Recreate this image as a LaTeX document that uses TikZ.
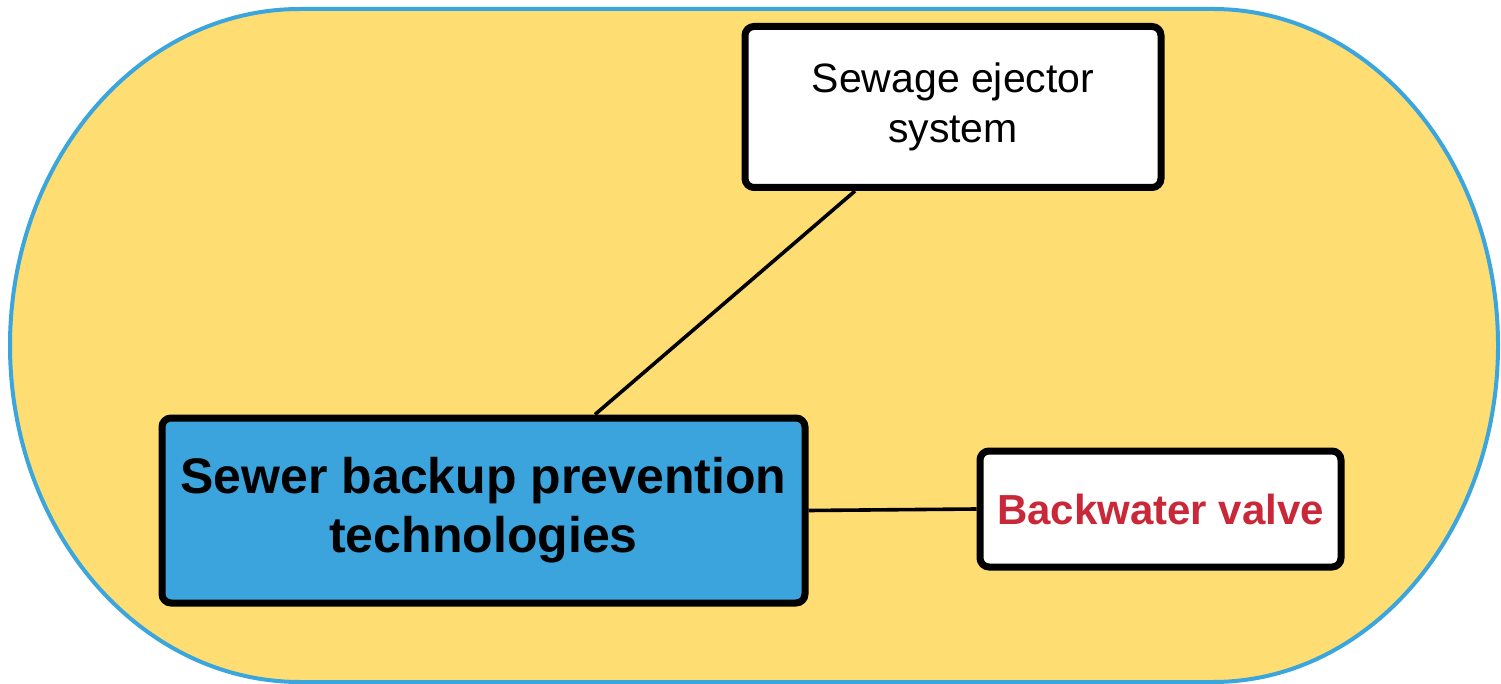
\documentclass[tikz,border=0pt]{standalone}
\usepackage{fontspec}
\setmainfont{Liberation Sans}
\definecolor{bgyellow}{RGB}{254,221,115}
\definecolor{outline}{RGB}{59,165,221}
\definecolor{mainblue}{RGB}{59,164,220}
\definecolor{valvered}{RGB}{200,40,56}
\tikzset{
  box/.style={draw=black, line width=7pt, rounded corners=9pt, fill=white, align=center, inner sep=0pt},
  link/.style={draw=black, line width=3.6pt}
}
\begin{document}
\begin{tikzpicture}[x=1pt,y=-1pt]
\useasboundingbox (0,0) rectangle (1501,684);
\path[fill=bgyellow, draw=outline, line width=4pt]
  (300,9) -- (1213,9) arc[start angle=-90, end angle=90, x radius=285, y radius=336.5]
  -- (300,682) arc[start angle=90, end angle=270, x radius=290, y radius=336.5] -- cycle;
\node[box, fill=mainblue, minimum width=643pt, minimum height=185pt,
      font=\fontsize{50}{59}\selectfont\bfseries] (main) at (483.5,510.5)
      {Sewer backup prevention\\technologies};
\node[box, minimum width=416pt, minimum height=161pt,
      font=\fontsize{41}{50}\selectfont] (ej) at (953,107)
      {Sewage ejector\\system};
\node[box, minimum width=361pt, minimum height=116pt, text=valvered,
      font=\fontsize{42}{50}\selectfont\bfseries] (valve) at (1160.5,509)
      {Backwater valve};
\draw[link] ([xshift=111.5pt]main.north) -- ([xshift=-98pt]ej.south);
\draw[link] (main.east) -- (valve.west);
\end{tikzpicture}
\end{document}
